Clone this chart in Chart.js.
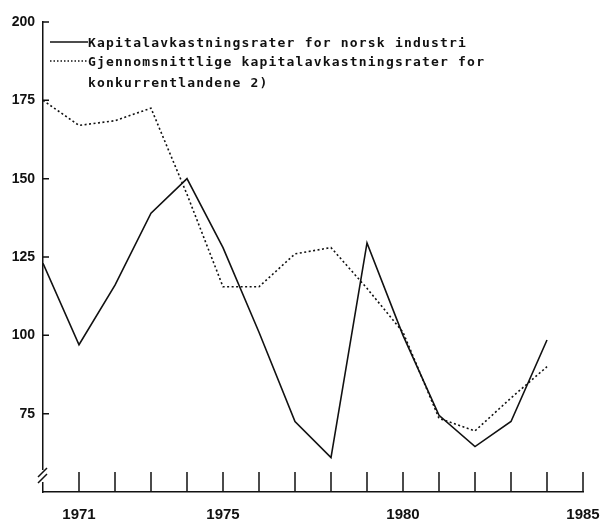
<!DOCTYPE html>
<html>
<head>
<meta charset="utf-8">
<script src="https://cdn.jsdelivr.net/npm/chart.js@4"></script>
<style>
  html, body { margin: 0; padding: 0; background: #fff; }
  #wrap { width: 601px; height: 522px; }
</style>
</head>
<body>
<div id="wrap"><canvas id="rateChart" width="601" height="522"></canvas></div>
<script>
// Kapitalavkastningsrater, 1970-1984
const years = [1970, 1971, 1972, 1973, 1974, 1975, 1976, 1977, 1978, 1979, 1980, 1981, 1982, 1983, 1984];
const norsk = [123, 97, 116, 139, 150, 128, 101, 72.5, 61, 129.5, 100, 74.5, 64.5, 72.5, 98.5];
const konkurrent = [175, 167, 168.5, 172.5, 145, 115.5, 115.5, 126, 128, 115, 101, 73.5, 69.5, 80, 90];
const seriesNames = [
    ['Kapitalavkastningsrater for norsk industri'],
    ['Gjennomsnittlige kapitalavkastningsrater for', 'konkurrentlandene 2)']
];
const xLabels = [1971, 1975, 1980, 1985];
const yLabels = [75, 100, 125, 150, 175, 200];

const ink = '#111';

// axis ticks drawn inward, break marks and the legend
const decorations = {
    id: 'decorations',
    afterDraw(chart) {
        const c = chart.ctx;
        const xs = chart.scales.x, ys = chart.scales.y;
        const left = chart.chartArea.left, bottom = chart.chartArea.bottom;
        c.save();
        c.strokeStyle = ink;
        c.lineWidth = 1.5;
        // x ticks
        c.beginPath();
        for (let yr = 1971; yr <= 1985; yr++) {
            const px = xs.getPixelForValue(yr);
            c.moveTo(px, bottom);
            c.lineTo(px, bottom - 20);
        }
        // y ticks
        yLabels.forEach(v => {
            const py = ys.getPixelForValue(v);
            c.moveTo(left, py);
            c.lineTo(left + 6, py);
        });
        c.stroke();
        // break marks
        c.fillStyle = '#fff';
        c.fillRect(left - 3, bottom - 22, 6, 12);
        c.beginPath();
        c.moveTo(left - 5, bottom - 15); c.lineTo(left + 4, bottom - 24);
        c.moveTo(left - 5, bottom - 9); c.lineTo(left + 4, bottom - 18);
        c.stroke();

        // legend
        c.font = 'bold 13px "DejaVu Sans Mono"';
        c.letterSpacing = '1.2px';
        c.fillStyle = ink;
        c.textBaseline = 'alphabetic';
        const lx0 = left + 7, lx1 = left + 45;
        const rows = [47, 66];
        c.beginPath();
        c.moveTo(lx0, rows[0] - 5); c.lineTo(lx1, rows[0] - 5);
        c.stroke();
        c.setLineDash([1.5, 2]);
        c.beginPath();
        c.moveTo(lx0, rows[1] - 5); c.lineTo(lx1, rows[1] - 5);
        c.stroke();
        c.setLineDash([]);
        seriesNames.forEach((lines, i) => {
            lines.forEach((t, j) => c.fillText(t, lx1, rows[i] + j * 20.5));
        });
        c.restore();
    }
};

const ctx = document.getElementById('rateChart').getContext('2d');
const rateChart = new Chart(ctx, {
    type: 'line',
    data: {
        datasets: [{
            label: seriesNames[0].join(' '),
            data: years.map((yr, i) => ({ x: yr, y: norsk[i] })),
            borderColor: ink,
            borderWidth: 1.6,
            pointRadius: 0,
            tension: 0
        }, {
            label: seriesNames[1].join(' '),
            data: years.map((yr, i) => ({ x: yr, y: konkurrent[i] })),
            borderColor: ink,
            borderWidth: 1.6,
            borderDash: [2, 2.5],
            pointRadius: 0,
            tension: 0
        }]
    },
    options: {
        responsive: false,
        animation: false,
        layout: { padding: { top: 22, right: 0, bottom: 0, left: 0 } },
        plugins: {
            legend: { display: false },
            tooltip: { enabled: false }
        },
        scales: {
            x: {
                type: 'linear',
                min: 1970,
                max: 1985,
                afterFit: s => { s.height = 30; s.paddingRight = 18; s.paddingLeft = 0; },
                grid: { display: false, drawTicks: false },
                border: { display: true, color: ink, width: 1.5 },
                ticks: {
                    stepSize: 1,
                    autoSkip: false,
                    maxRotation: 0,
                    padding: 14,
                    color: ink,
                    font: { family: '"Liberation Sans"', size: 15, weight: 'bold' },
                    callback: v => xLabels.includes(v) ? String(v) : ''
                }
            },
            y: {
                min: 50,
                max: 200,
                afterFit: s => { s.width = 43; },
                grid: { display: false, drawTicks: false },
                border: { display: true, color: ink, width: 1.5 },
                ticks: {
                    stepSize: 25,
                    padding: 8,
                    color: ink,
                    font: { family: '"Liberation Sans"', size: 14, weight: 'bold' },
                    callback: v => yLabels.includes(v) ? String(v) : ''
                }
            }
        }
    },
    plugins: [decorations]
});
</script>
</body>
</html>
